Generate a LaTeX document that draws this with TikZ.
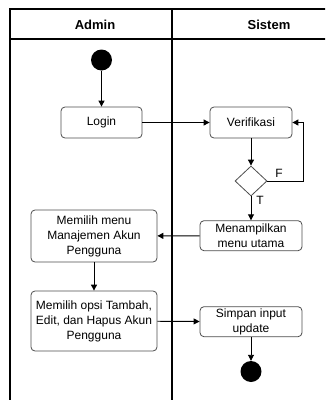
\documentclass[tikz,border=0pt]{standalone}
\usepackage{fontspec}
\setmainfont{Liberation Sans}
\usetikzlibrary{shapes.geometric,arrows.meta}
\begin{document}
\begin{tikzpicture}[x=1pt,y=-1pt,
  lane/.style={line width=1.4pt,black},
  act/.style={draw=black!70,rounded corners=4pt,line width=0.8pt,align=center,
    inner sep=0pt,font=\fontsize{12}{15}\selectfont},
  flow/.style={line width=0.9pt,-{Triangle[length=6pt,width=6pt]}},
  term/.style={circle,fill=black,minimum size=21pt,inner sep=0pt},
  head/.style={font=\fontsize{13}{15}\selectfont\bfseries},
  lbl/.style={font=\fontsize{12}{14}\selectfont,inner sep=0pt}]
\useasboundingbox (0,0) rectangle (325,400);
\begin{scope}
\clip (0,0) rectangle (325,400);
% swimlane frame
\draw[lane] (10,402) -- (10,9) -- (330,9);
\draw[lane] (10,39) -- (330,39);
\draw[lane] (172,9) -- (172,402);
\end{scope}
\node[head] (hadmin) at (95,25) {Admin};
\node[head] (hsis) at (269,25) {Sistem};

% nodes
\node[term] (start) at (101.5,60) {};
\node[act,minimum width=81pt,minimum height=31pt] (login) at (101.5,122.5) {Login};
\node[act,minimum width=82pt,minimum height=31pt] (ver) at (251,122.5) {Verifikasi};
\node[diamond,draw=black!70,line width=0.8pt,minimum width=32pt,minimum height=30pt,inner sep=0pt,aspect=1.07] (dia) at (251,181) {};
\node[act,minimum width=102pt,minimum height=30pt] (menu) at (251,235.7) {Menampilkan\\menu utama};
\node[act,minimum width=126pt,minimum height=52pt] (pilih) at (94,236) {Memilih menu\\Manajemen Akun\\Pengguna};
\node[act,minimum width=126pt,minimum height=60pt] (opsi) at (94,321) {Memilih opsi Tambah,\\Edit, dan Hapus Akun\\Pengguna};
\node[act,minimum width=102pt,minimum height=30pt] (simpan) at (251,321.7) {Simpan input\\update};
\node[term] (stop) at (251,371.5) {};

\node[lbl] (lf) at (279,173) {F};
\node[lbl] (lt) at (260,200) {T};

% connectors
\draw[flow] (start) -- (login);
\draw[flow] (login) -- (ver);
\draw[flow] (ver) -- (dia);
\draw[flow] (dia.east) -- ++(36,0) |- (ver.east);
\draw[flow] (dia) -- (menu);
\draw[flow] (menu) -- (pilih);
\draw[flow] (pilih) -- (opsi);
\draw[flow] (opsi) -- (simpan);
\draw[flow] (simpan) -- (stop);
\end{tikzpicture}
\end{document}
